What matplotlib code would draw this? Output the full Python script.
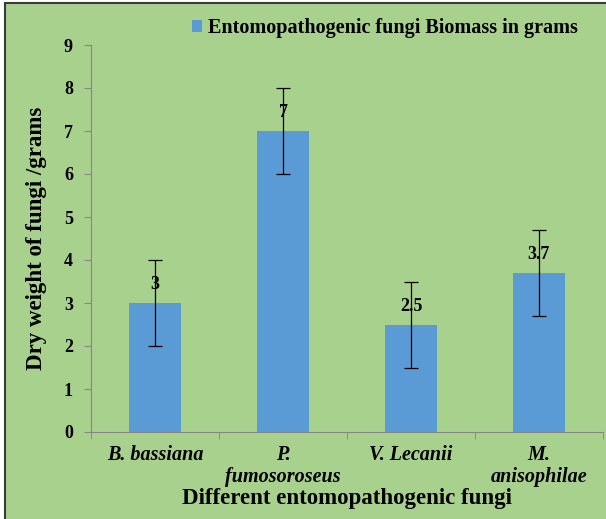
import matplotlib.pyplot as plt
from matplotlib.patches import Rectangle

fungi = ["B. bassiana", "P.\nfumosoroseus", "V. Lecanii", "M.\nanisophilae"]
biomass = [3, 7, 2.5, 3.7]
errors = [1, 1, 1, 1]
value_labels = ["3", "7", "2.5", "3.7"]

plt.rcParams['font.family'] = ['Liberation Serif', 'DejaVu Serif']
plt.rcParams['font.weight'] = 'bold'

green = "#a9d18e"
blue = "#5b9bd5"
grey = "#868686"

fig = plt.figure(figsize=(6.06, 5.19), dpi=100)
fig.patch.set_facecolor("white")
fig.patches.append(Rectangle((5 / 606, -0.01), 1.0, 1 - 3 / 519 + 0.01,
                             transform=fig.transFigure, facecolor=green,
                             edgecolor="#3a3a3a", linewidth=1.5, zorder=-1))

ax = fig.add_axes([91 / 606, (519 - 432) / 519, (603 - 91) / 606, (432 - 45) / 519])
ax.set_facecolor("none")

x = range(len(fungi))
ax.bar(x, biomass, width=0.4, color=blue, zorder=2, label="Entomopathogenic fungi Biomass in grams")
ax.errorbar(x, biomass, yerr=errors, fmt="none", ecolor="black", elinewidth=0.9,
            capsize=5, capthick=0.9, zorder=3)
for xi, v, lab in zip(x, biomass, value_labels):
    ax.annotate(lab, (xi, v), xytext=(0, 7), textcoords="offset points",
                ha="center", va="bottom", fontsize=13, fontweight="bold")

ax.set_xlim(-0.5, 3.5)
ax.set_ylim(0, 9)
ax.set_yticks(range(10))
ax.set_xticks(list(x))
ax.set_xticklabels(fungi, fontstyle="italic", fontsize=14.5, fontweight="bold", linespacing=1.15)
ax.set_xticks([-0.5, 0.5, 1.5, 2.5, 3.5], minor=True)
ax.tick_params(axis="x", which="major", length=0, pad=9)
ax.tick_params(axis="x", which="minor", length=5, color=grey)
ax.tick_params(axis="y", length=5, color=grey, labelsize=13, pad=8)

for s in ["top", "right"]:
    ax.spines[s].set_visible(False)
for s in ["left", "bottom"]:
    ax.spines[s].set_color(grey)
    ax.spines[s].set_linewidth(0.8)

ax.set_ylabel("Dry weight of fungi /grams", fontsize=16.5, fontweight="bold", labelpad=12)
ax.set_xlabel("Different entomopathogenic fungi", fontsize=16.5, fontweight="bold", labelpad=1)

ax.legend(loc="center", bbox_to_anchor=(385 / 606, 1 - 28 / 519), bbox_transform=fig.transFigure,
          frameon=False, fontsize=14.5, handlelength=0.5, handleheight=0.5, handletextpad=0.3)

fig.savefig("out.png", dpi=100, facecolor=fig.get_facecolor())
